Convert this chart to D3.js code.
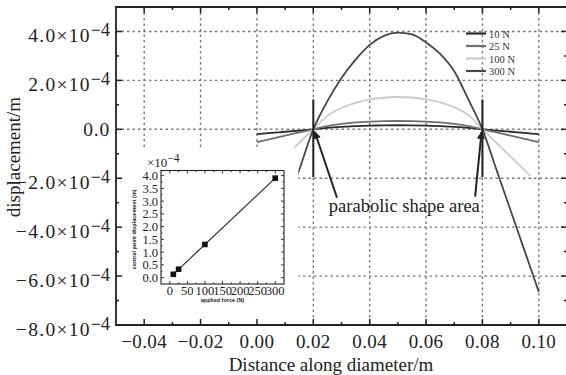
<!DOCTYPE html>
<html><head><meta charset="utf-8">
<script src="https://cdn.jsdelivr.net/npm/d3@7"></script>
<style>body{margin:0;background:#fff}svg{display:block}</style>
</head><body><svg id="c" width="566" height="375"></svg>
<script>
// ---------- data (displacement in units of 1e-4 m) ----------
const xCommon = [0.000,0.005,0.010,0.015,0.020,0.025,0.030,0.035,0.040,0.045,0.050,0.055,0.060,0.065,0.070,0.075,0.080,0.085,0.090,0.095,0.100];
const x100N   = [0.000,0.005,0.010,0.015,0.020,0.025,0.030,0.035,0.040,0.045,0.050,0.055,0.060,0.065,0.070,0.075,0.080,0.085,0.090,0.097];
const y10N  = [-0.20,-0.15,-0.10,-0.05,0,0.06,0.10,0.13,0.15,0.16,0.165,0.16,0.15,0.13,0.10,0.06,0,-0.05,-0.10,-0.15,-0.20];
const y25N  = [-0.52,-0.39,-0.26,-0.13,0,0.13,0.22,0.28,0.315,0.335,0.34,0.335,0.315,0.28,0.22,0.13,0,-0.13,-0.26,-0.39,-0.52];
const y100N = [-2.20,-1.65,-1.10,-0.55,0,0.55,0.88,1.08,1.22,1.29,1.32,1.30,1.22,1.10,0.90,0.58,0,-0.56,-1.12,-1.90];
const y300N = [-6.65,-4.98,-3.32,-1.66,0,1.15,2.10,2.85,3.45,3.82,3.95,3.88,3.55,3.08,2.37,1.22,0,-1.66,-3.32,-4.98,-6.65];
const seriesNames = ["10 N","25 N","100 N","300 N"];
const seriesColors = ["#2b2b2b","#6e6e6e","#cbcbcb","#474747"];
// boundary markers (x position, y from, y to) in 1e-4 m
const markerX = [0.02, 0.08];
const markerY = [1.22, -1.95];
// x / y axis ticks
const xMajor = [-0.04,-0.02,0.00,0.02,0.04,0.06,0.08,0.10];
const xMinor = [-0.03,-0.01,0.01,0.03,0.05,0.07,0.09];
const yMajor = [-8,-6,-4,-2,0,2,4];
const yMinor = [-7,-5,-3,-1,1,3];
// inset: central point displacement vs applied force
const insetForce = [10,25,100,300];
const insetDisp  = [0.13,0.33,1.30,3.90];
const insetXTicks = [0,50,100,150,200,250,300];
const insetYTicks = [0,0.5,1,1.5,2,2.5,3,3.5,4];
// annotation arrows: [tailX, tailY, tipX, tipY]
const arrowsData = [[0.0284,-2.8,0.0205,-0.1],[0.0774,-2.75,0.0797,-0.1]];
const annoText = "parabolic shape area";
const annoPos = [0.0255,-3.4];

// ---------- layout ----------
const svg = d3.select("#c");
const M = {l:116, t:7, r:567, b:325};
const x = d3.scaleLinear().domain([-0.05,0.11]).range([M.l,M.r]);
const y = d3.scaleLinear().domain([-8,5]).range([M.b,M.t]);
const serif = "'Liberation Serif','Times New Roman',serif";
const ink = "#222";

svg.append("defs").append("clipPath").attr("id","plot")
  .append("rect").attr("x",M.l).attr("y",M.t).attr("width",M.r-M.l).attr("height",M.b-M.t);
svg.select("defs").append("marker").attr("id","ah").attr("viewBox","0 0 10 10")
  .attr("refX",9).attr("refY",5).attr("markerWidth",4).attr("markerHeight",4)
  .attr("orient","auto").attr("markerUnits","strokeWidth")
  .append("path").attr("d","M0,0 L10,5 L0,10 z").attr("fill",ink);

// grid
const grid = svg.append("g").attr("stroke","#7a7a7a").attr("stroke-width",1.4).attr("stroke-dasharray","2.5,3");
grid.selectAll("line.v").data(xMajor).join("line").attr("class","v")
  .attr("x1",d=>x(d)).attr("x2",d=>x(d)).attr("y1",M.t).attr("y2",M.b);
grid.selectAll("line.h").data(yMajor.filter(d=>d>-8)).join("line").attr("class","h")
  .attr("x1",M.l).attr("x2",M.r).attr("y1",d=>y(d)).attr("y2",d=>y(d));

// curves
const plotG = svg.append("g").attr("clip-path","url(#plot)");
const line = d3.line().x(d=>x(d[0])).y(d=>y(d[1])).curve(d3.curveMonotoneX);
const seriesData = [
  d3.zip(xCommon,y10N), d3.zip(xCommon,y25N), d3.zip(x100N,y100N), d3.zip(xCommon,y300N)
];
plotG.selectAll("path.s").data(seriesData).join("path").attr("class","s")
  .attr("d",line).attr("fill","none")
  .attr("stroke",(d,i)=>seriesColors[i]).attr("stroke-width",1.8);

// boundary vertical markers
plotG.selectAll("line.mk").data(markerX).join("line").attr("class","mk")
  .attr("x1",d=>x(d)).attr("x2",d=>x(d)).attr("y1",y(markerY[0])).attr("y2",y(markerY[1]))
  .attr("stroke",ink).attr("stroke-width",2);

// white panel behind inset
svg.append("rect").attr("x",M.l+1).attr("y",y(-0.75))
  .attr("width",x(0.0147)-M.l-1).attr("height",M.b-1-y(-0.75)).attr("fill","#fff");

// ---------- inset ----------
const I = {l:161, r:284, t:170.5, b:284};
const ix = d3.scaleLinear().domain([-25,325]).range([I.l,I.r]);
const iy = d3.scaleLinear().domain([-0.25,4.2]).range([I.b,I.t]);
const ig = svg.append("g");
ig.append("rect").attr("x",I.l).attr("y",I.t).attr("width",I.r-I.l).attr("height",I.b-I.t)
  .attr("fill","#fff").attr("stroke",ink).attr("stroke-width",1.1);
// inset ticks
const ixMinor = d3.range(25,300,50);
const iyMinor = d3.range(0.25,4.2,0.5);
const tk = ig.append("g").attr("stroke",ink).attr("stroke-width",0.9);
insetXTicks.forEach(d=>{
  tk.append("line").attr("x1",ix(d)).attr("x2",ix(d)).attr("y1",I.b).attr("y2",I.b-3);
  tk.append("line").attr("x1",ix(d)).attr("x2",ix(d)).attr("y1",I.t).attr("y2",I.t+3);
});
ixMinor.forEach(d=>{
  tk.append("line").attr("x1",ix(d)).attr("x2",ix(d)).attr("y1",I.b).attr("y2",I.b-1.5);
  tk.append("line").attr("x1",ix(d)).attr("x2",ix(d)).attr("y1",I.t).attr("y2",I.t+1.5);
});
insetYTicks.forEach(d=>{
  tk.append("line").attr("x1",I.l).attr("x2",I.l+3).attr("y1",iy(d)).attr("y2",iy(d));
  tk.append("line").attr("x1",I.r).attr("x2",I.r-3).attr("y1",iy(d)).attr("y2",iy(d));
});
iyMinor.forEach(d=>{
  tk.append("line").attr("x1",I.l).attr("x2",I.l+1.5).attr("y1",iy(d)).attr("y2",iy(d));
  tk.append("line").attr("x1",I.r).attr("x2",I.r-1.5).attr("y1",iy(d)).attr("y2",iy(d));
});
// inset fit line & points
ig.append("line").attr("x1",ix(insetForce[0])).attr("y1",iy(insetDisp[0]))
  .attr("x2",ix(insetForce[3])).attr("y2",iy(insetDisp[3])).attr("stroke",ink).attr("stroke-width",1.1);
ig.selectAll("rect.p").data(d3.zip(insetForce,insetDisp)).join("rect").attr("class","p")
  .attr("x",d=>ix(d[0])-2.8).attr("y",d=>iy(d[1])-2.8).attr("width",5.6).attr("height",5.6).attr("fill","#111");
// inset labels
ig.selectAll("text.iy").data(insetYTicks).join("text").attr("class","iy")
  .attr("x",I.l-3).attr("y",d=>iy(d)+4.5).attr("text-anchor","end")
  .attr("font-family",serif).attr("font-size",12.5).attr("fill",ink).text(d=>d.toFixed(1));
ig.selectAll("text.ix").data(insetXTicks).join("text").attr("class","ix")
  .attr("x",d=>ix(d)).attr("y",I.b+11).attr("text-anchor","middle")
  .attr("font-family",serif).attr("font-size",12.5).attr("fill",ink).text(d=>d);
const ex = ig.append("text").attr("x",147).attr("y",167).attr("font-family",serif).attr("font-size",13).attr("fill",ink);
ex.append("tspan").text("×10");
ex.append("tspan").attr("dy",-5).attr("font-size",11.5).text("−4");
ig.append("text").attr("x",ix(150)).attr("y",I.b+18).attr("text-anchor","middle")
  .attr("font-family","'Liberation Sans',Arial,sans-serif").attr("font-weight","bold").attr("font-size",5.5)
  .attr("fill",ink).text("applied force (N)");
ig.append("text").attr("transform",`translate(136,${(I.t+I.b)/2+2}) rotate(-90)`).attr("text-anchor","middle")
  .attr("font-family","'Liberation Sans',Arial,sans-serif").attr("font-weight","bold").attr("font-size",5.5)
  .attr("fill",ink).text("central point displacement (m)");

// ---------- main axes ----------
const ax = svg.append("g").attr("stroke",ink);
ax.append("path").attr("d",`M${M.r},${M.t}H${M.l}V${M.b}H${M.r}`).attr("fill","none").attr("stroke-width",1.8);
ax.append("line").attr("x1",M.r).attr("x2",M.r).attr("y1",M.t).attr("y2",M.b).attr("stroke-width",1.8);
const tkm = ax.append("g").attr("stroke-width",1.5);
xMajor.forEach(d=>{
  tkm.append("line").attr("x1",x(d)).attr("x2",x(d)).attr("y1",M.b).attr("y2",M.b-6);
  tkm.append("line").attr("x1",x(d)).attr("x2",x(d)).attr("y1",M.t).attr("y2",M.t+6);
});
xMinor.forEach(d=>{
  tkm.append("line").attr("x1",x(d)).attr("x2",x(d)).attr("y1",M.b).attr("y2",M.b-3);
  tkm.append("line").attr("x1",x(d)).attr("x2",x(d)).attr("y1",M.t).attr("y2",M.t+3);
});
yMajor.forEach(d=>{
  tkm.append("line").attr("x1",M.l).attr("x2",M.l+6).attr("y1",y(d)).attr("y2",y(d));
  tkm.append("line").attr("x1",M.r).attr("x2",M.r-6).attr("y1",y(d)).attr("y2",y(d));
});
yMinor.forEach(d=>{
  tkm.append("line").attr("x1",M.l).attr("x2",M.l+3).attr("y1",y(d)).attr("y2",y(d));
  tkm.append("line").attr("x1",M.r).attr("x2",M.r-3).attr("y1",y(d)).attr("y2",y(d));
});

// x labels
svg.selectAll("text.xl").data(xMajor).join("text").attr("class","xl")
  .attr("x",d=>x(d)).attr("y",348).attr("text-anchor","middle")
  .attr("font-family",serif).attr("font-size",19).attr("letter-spacing",0.4).attr("fill",ink)
  .text(d=>d3.format(".2f")(d));
// y labels
yMajor.forEach(d=>{
  const t = svg.append("text").attr("x",110).attr("text-anchor","end")
    .attr("font-family",serif).attr("font-size",19.5).attr("fill",ink);
  if (d===0) { t.attr("y",y(d)+7).attr("letter-spacing",0.8).text("0.0"); return; }
  t.attr("y",y(d)+11);
  t.append("tspan").attr("letter-spacing",1.3).text(d3.format(".1f")(d)+"×10");
  t.append("tspan").attr("dy",-6).attr("font-size",18).text("−4");
});
// axis titles
svg.append("text").attr("x",331).attr("y",371).attr("text-anchor","middle")
  .attr("font-family",serif).attr("font-size",19).attr("fill",ink).text("Distance along diameter/m");
svg.append("text").attr("transform","translate(20,157) rotate(-90)").attr("text-anchor","middle")
  .attr("font-family",serif).attr("font-size",19).attr("fill",ink).text("displacement/m");

// ---------- legend ----------
const lg = svg.append("g");
const legY = [33.5,46,58.5,71];
seriesNames.forEach((n,i)=>{
  lg.append("line").attr("x1",466).attr("x2",486).attr("y1",legY[i]).attr("y2",legY[i])
    .attr("stroke",seriesColors[i]).attr("stroke-width",2.2);
  lg.append("text").attr("x",489).attr("y",legY[i]+4).attr("font-family",serif)
    .attr("font-size",10.5).attr("fill","#333").text(n);
});

// ---------- annotation ----------
svg.selectAll("line.ar").data(arrowsData).join("line").attr("class","ar")
  .attr("x1",d=>x(d[0])).attr("y1",d=>y(d[1])).attr("x2",d=>x(d[2])).attr("y2",d=>y(d[3]))
  .attr("stroke",ink).attr("stroke-width",2).attr("marker-end","url(#ah)");
svg.append("text").attr("x",x(annoPos[0])).attr("y",y(annoPos[1]))
  .attr("font-family",serif).attr("font-size",18.5).attr("fill",ink).text(annoText);
</script></body></html>
